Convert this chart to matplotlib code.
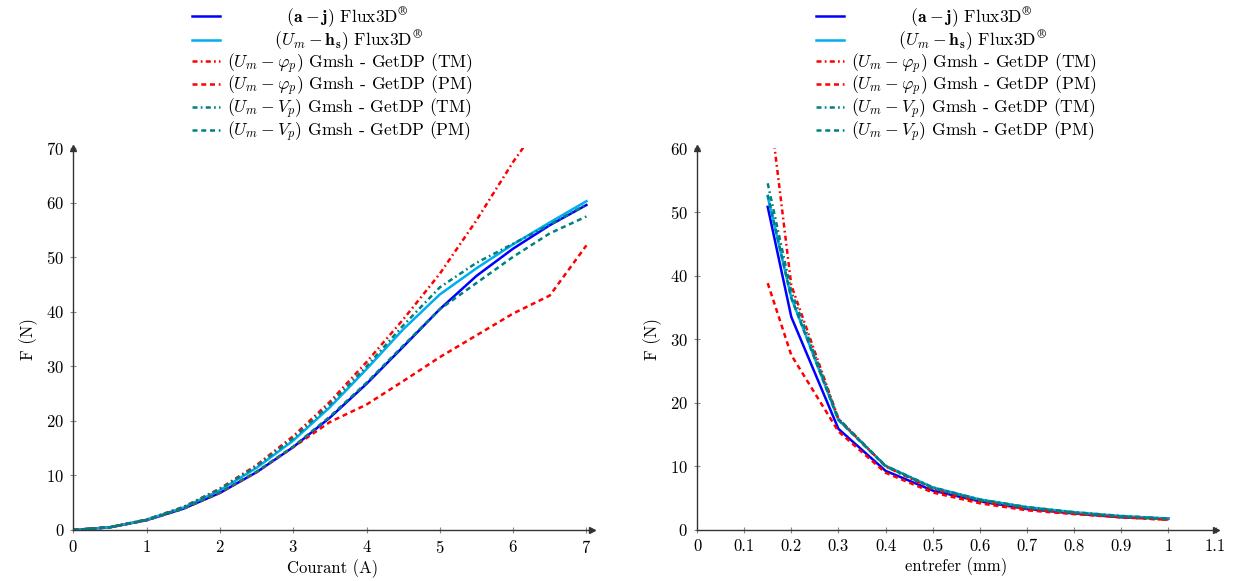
import matplotlib
matplotlib.use("Agg")
import matplotlib.pyplot as plt

plt.rcParams["font.family"] = "serif"
plt.rcParams["font.serif"] = ["cmr10", "DejaVu Serif"]
plt.rcParams["mathtext.fontset"] = "cm"
plt.rcParams["axes.formatter.use_mathtext"] = True
plt.rcParams["font.size"] = 12

# left chart: force vs current
courant = [0, 0.5, 1, 1.5, 2, 2.5, 3, 3.5, 4, 4.5, 5, 5.5, 6, 6.5, 7]
f_aj = [0, 0.5, 1.8, 3.9, 6.8, 10.6, 15.2, 20.6, 26.8, 33.6, 40.5, 46.6, 51.6, 55.9, 59.6]
f_umhs = [0, 0.5, 1.9, 4.1, 7.3, 11.4, 16.4, 22.5, 29.5, 36.8, 43.2, 48.0, 52.4, 56.4, 60.3]
f_phi_tm = [0, 0.5, 1.9, 4.2, 7.6, 11.9, 17.2, 23.5, 30.8, 38.6, 47.0, 56.8, 67.5, 77.0, 86.0]
f_phi_pm = [0, 0.5, 1.8, 3.9, 6.8, 10.6, 15.2, 19.8, 23.0, 27.3, 31.7, 35.7, 39.7, 43.0, 52.2]
f_vp_tm = [0, 0.5, 1.9, 4.2, 7.5, 11.7, 16.8, 23.0, 30.0, 37.5, 44.5, 49.0, 52.5, 56.0, 59.7]
f_vp_pm = [0, 0.5, 1.8, 3.9, 6.9, 10.7, 15.3, 20.8, 27.0, 33.8, 40.5, 45.3, 50.1, 54.4, 57.5]

# right chart: force vs air gap
entrefer = [0.15, 0.2, 0.3, 0.4, 0.5, 0.6, 0.7, 0.8, 0.9, 1.0]
g_aj = [50.8, 33.5, 15.9, 9.3, 6.2, 4.5, 3.3, 2.6, 2.0, 1.8]
g_umhs = [52.4, 36.5, 17.3, 10.1, 6.7, 4.8, 3.6, 2.8, 2.2, 1.8]
g_phi_tm = [69.0, 38.5, 17.5, 10.0, 6.4, 4.5, 3.3, 2.6, 2.0, 1.6]
g_phi_pm = [38.8, 27.5, 15.5, 9.0, 5.9, 4.2, 3.1, 2.5, 2.0, 1.6]
g_vp_tm = [54.5, 37.5, 17.5, 10.1, 6.7, 4.8, 3.6, 2.8, 2.2, 1.8]
g_vp_pm = [52.7, 36.5, 17.3, 10.0, 6.6, 4.7, 3.5, 2.7, 2.1, 1.7]

labels = [
    r"$\hspace{3.9}(\mathbf{a}-\mathbf{j})$ Flux3D$^{\circledR}$",
    r"$\hspace{3.1}(U_m-\mathbf{h}_\mathbf{s})$ Flux3D$^{\circledR}$",
    r"$(U_m-\varphi_p)$ Gmsh - GetDP (TM)",
    r"$(U_m-\varphi_p)$ Gmsh - GetDP (PM)",
    r"$(U_m-V_p)$ Gmsh - GetDP (TM)",
    r"$(U_m-V_p)$ Gmsh - GetDP (PM)",
]
styles = [
    dict(color="#0000ff", ls="-"),
    dict(color="#00aeef", ls="-"),
    dict(color="#ff0000", ls=(0, (2.0, 1.3, 0.7, 1.3))),
    dict(color="#ff0000", ls=(0, (2.0, 1.5))),
    dict(color="#008080", ls=(0, (2.0, 1.3, 0.7, 1.3))),
    dict(color="#008080", ls=(0, (2.0, 1.5))),
]

fig = plt.figure(figsize=(12.34, 5.81), dpi=100)
ax1 = fig.add_axes([73.3 / 1234, 1 - 530 / 581, (592 - 73.3) / 1234, (530 - 148.3) / 581])
ax2 = fig.add_axes([697 / 1234, 1 - 530 / 581, (1215.5 - 697) / 1234, (530 - 148.3) / 581])


def style_axis(ax):
    for s in ["top", "right"]:
        ax.spines[s].set_visible(False)
    for s in ["left", "bottom"]:
        ax.spines[s].set_color("#333333")
        ax.spines[s].set_linewidth(1.0)
    ax.tick_params(direction="inout", length=5, width=0.8, color="#888888", labelsize=12, pad=4)
    # arrow heads at the end of the axis lines
    ax.plot(1, 0, ">", color="#333333", ms=4, transform=ax.get_yaxis_transform(), clip_on=False)
    ax.plot(0, 1, "^", color="#333333", ms=4, transform=ax.get_xaxis_transform(), clip_on=False)


series1 = [f_aj, f_umhs, f_phi_tm, f_phi_pm, f_vp_tm, f_vp_pm]
for ys, lab, st in zip(series1, labels, styles):
    ax1.plot(courant, ys, lw=1.8, label=lab, **st)
ax1.set_xlim(0, 7.076)
ax1.set_ylim(0, 70)
ax1.set_xticks(range(0, 8))
ax1.set_yticks(range(0, 71, 10))
ax1.set_xlabel("Courant (A)", labelpad=2)
ax1.set_ylabel("F (N)", labelpad=6)
style_axis(ax1)

series2 = [g_aj, g_umhs, g_phi_tm, g_phi_pm, g_vp_tm, g_vp_pm]
for ys, lab, st in zip(series2, labels, styles):
    ax2.plot(entrefer, ys, lw=1.8, label=lab, **st)
ax2.set_xlim(0, 1.1)
ax2.set_ylim(0, 60)
ax2.set_xticks([0, 0.1, 0.2, 0.3, 0.4, 0.5, 0.6, 0.7, 0.8, 0.9, 1, 1.1])
ax2.set_xticklabels(["0", "0.1", "0.2", "0.3", "0.4", "0.5", "0.6", "0.7", "0.8", "0.9", "1", "1.1"])
ax2.set_yticks(range(0, 61, 10))
ax2.set_xlabel("entrefer (mm)", labelpad=2)
ax2.set_ylabel("F (N)", labelpad=6)
style_axis(ax2)

for ax in (ax1, ax2):
    ax.legend(loc="lower center", bbox_to_anchor=(0.5, 1.0), frameon=False,
              fontsize=12.6, handlelength=1.6, handletextpad=0.42,
              labelspacing=-0.08, borderpad=0.1, borderaxespad=0.15)

fig.savefig("out.png", dpi=100)
